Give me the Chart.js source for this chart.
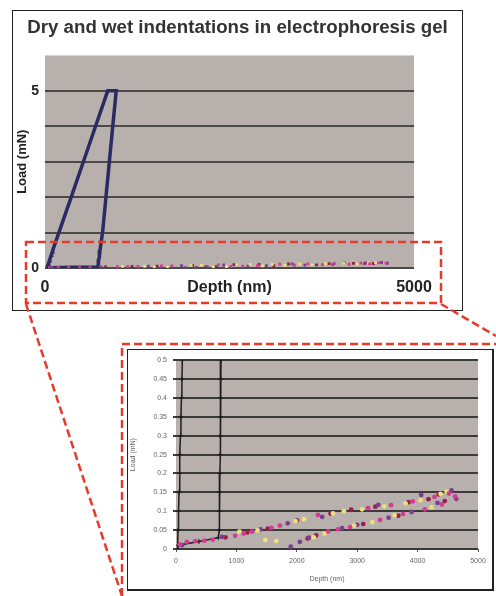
<!DOCTYPE html>
<html>
<head>
<meta charset="utf-8">
<script src="https://cdn.jsdelivr.net/npm/chart.js@4.4.1/dist/chart.umd.min.js"></script>
<style>
  html, body { margin: 0; padding: 0; background: #fff; }
  body { width: 496px; height: 596px; position: relative; overflow: hidden; }
  .box { position: absolute; border: 1px solid #222; background: #fff; }
  #mainBox { left: 12px; top: 10px; width: 449px; height: 299px; }
  #zoomBox { left: 127px; top: 349px; width: 364px; height: 239px; border-right-width: 2px; border-bottom-width: 2px; }
  canvas { display: block; }
  svg { position: absolute; left: 0; top: 0; pointer-events: none; }
</style>
</head>
<body>
<div class="box" id="mainBox"><canvas id="mainChart" width="449" height="299"></canvas></div>
<div class="box" id="zoomBox"><canvas id="zoomChart" width="364" height="239"></canvas></div>
<svg width="496" height="596">
  <g fill="none" stroke="#e8392b" stroke-width="2.5" stroke-dasharray="8 4">
    <rect x="26" y="242" width="415" height="61"/>
    <line x1="26" y1="304" x2="122" y2="596"/>
    <line x1="441" y1="304" x2="496" y2="336"/>
    <polyline points="122,596 122,344 496,344"/>
  </g>
</svg>
<script>
// dry indentation: load, hold, unload (depth nm, load mN)
const dryDepth = [25, 34, 42, 50, 58, 66, 74, 82, 90, 98, 105, 188, 355, 520, 685, 850,
  965, 918, 872, 826, 780, 745, 742, 738, 735, 732, 729, 726, 722, 719, 715, 700, 380, 40];
const dryLoad = [0, 0.05, 0.1, 0.15, 0.2, 0.25, 0.3, 0.35, 0.4, 0.45, 0.5, 1, 2, 3, 4, 5,
  5, 4, 3, 2, 1, 0.5, 0.45, 0.4, 0.35, 0.3, 0.25, 0.2, 0.15, 0.1, 0.05, 0.03, 0.02, 0.01];

// wet indentations, four runs
const wetMagentaDepth = [60, 180, 320, 470, 610, 980, 1120, 1260, 1580, 1720, 2350, 2520,
  2680, 2880, 3180, 3380, 3560, 3760, 3920, 4120, 4280, 4400, 4520, 4620];
const wetMagentaLoad = [0.012, 0.019, 0.021, 0.022, 0.025, 0.035, 0.041, 0.046, 0.056, 0.062, 0.090, 0.047,
  0.052, 0.058, 0.108, 0.077, 0.116, 0.093, 0.126, 0.105, 0.138, 0.118, 0.147, 0.139];
const wetYellowDepth = [1050, 1350, 1480, 1660, 1980, 2120, 2280, 2460, 2600, 2780, 2950, 3080,
  3250, 3450, 3620, 3800, 4050, 4230, 4380, 4480];
const wetYellowLoad = [0.046, 0.049, 0.024, 0.021, 0.074, 0.079, 0.031, 0.041, 0.094, 0.100, 0.062, 0.105,
  0.071, 0.113, 0.089, 0.121, 0.129, 0.110, 0.146, 0.152];
const wetPurpleDepth = [100, 760, 1400, 1850, 1900, 2050, 2200, 2420, 2750, 3000, 3350, 3520,
  3900, 4060, 4330, 4560, 4640];
const wetPurpleLoad = [0.010, 0.032, 0.052, 0.068, 0.006, 0.019, 0.030, 0.085, 0.055, 0.064, 0.117, 0.083,
  0.098, 0.143, 0.122, 0.155, 0.133];
const wetRedDepth = [820, 1180, 1520, 2000, 2180, 2320, 2560, 2900, 3100, 3300, 3680, 3850, 4180, 4350, 4450];
const wetRedLoad = [0.031, 0.044, 0.054, 0.076, 0.028, 0.036, 0.094, 0.104, 0.066, 0.112, 0.088, 0.124, 0.132, 0.145, 0.127];

const wetRuns = [
  { depth: wetMagentaDepth, load: wetMagentaLoad, color: "#d63a93" },
  { depth: wetYellowDepth, load: wetYellowLoad, color: "#ece07a" },
  { depth: wetPurpleDepth, load: wetPurpleLoad, color: "#7b3f90" },
  { depth: wetRedDepth, load: wetRedLoad, color: "#96204a" },
];

const mainXTicks = [0, 5000];
const mainYTicks = [0, 5];

const FONT = "'Liberation Sans', Arial, sans-serif";

function points(xs, ys) {
  return xs.map((x, i) => ({ x: x, y: ys[i] }));
}

const plotBg = {
  id: "plotBg",
  beforeDraw(chart, args, opts) {
    const { ctx, chartArea: a } = chart;
    ctx.save();
    ctx.fillStyle = opts.color;
    ctx.fillRect(a.left, a.top, a.width, a.height);
    ctx.restore();
  },
};

// main chart
new Chart(document.getElementById("mainChart"), {
  type: "scatter",
  plugins: [plotBg],
  data: {
    datasets: [
      ...wetRuns.map((r) => ({
        data: points(r.depth, r.load),
        backgroundColor: r.color,
        borderColor: r.color,
        pointStyle: "rect",
        pointRadius: 2,
        borderWidth: 0,
      })),
      {
        data: points(dryDepth, dryLoad),
        showLine: true,
        borderColor: "#2b2a62",
        borderWidth: 3.5,
        pointRadius: 0,
      },
    ],
  },
  options: {
    responsive: false,
    animation: false,
    layout: { padding: { left: 0, right: 0, top: 0, bottom: 9 } },
    plugins: {
      legend: { display: false },
      tooltip: { enabled: false },
      plotBg: { color: "#b8b0ad" },
      title: {
        display: true,
        text: "Dry and wet indentations in electrophoresis gel",
        color: "#333",
        font: { family: FONT, size: 18.7, weight: "bold" },
        padding: { top: 6, bottom: 16 },
      },
    },
    scales: {
      x: {
        type: "linear",
        min: 0,
        max: 5000,
        grid: { display: false, drawTicks: false },
        border: { display: false },
        afterBuildTicks: (s) => { s.ticks = mainXTicks.map((v) => ({ value: v })); },
        ticks: {
          color: "#222",
          font: { family: FONT, size: 16, weight: "bold" },
          padding: 10,
          maxRotation: 0,
          callback: (v) => String(v),
        },
        title: {
          display: true,
          text: "Depth (nm)",
          color: "#222",
          font: { family: FONT, size: 16, weight: "bold" },
          padding: { top: 0, bottom: 4 },
        },
        afterFit: (s) => { s.height = 33; },
      },
      y: {
        min: 0,
        max: 6,
        grid: { color: "#4a4a4a", lineWidth: 2, drawTicks: false },
        border: { display: false },
        ticks: {
          stepSize: 1,
          color: "#222",
          padding: 6,
          font: { family: FONT, size: 14, weight: "bold" },
          callback: (v) => (v === 6 ? null : mainYTicks.includes(v) ? String(v) : ""),
        },
        title: {
          display: true,
          text: "Load (mN)",
          color: "#222",
          font: { family: FONT, size: 13, weight: "bold" },
          padding: { top: 2, bottom: 0 },
        },
        afterFit: (s) => { s.width = 32; },
      },
      // empty right-hand axis, only reserves the white margin
      yRight: {
        position: "right",
        grid: { display: false, drawTicks: false },
        border: { display: false },
        ticks: { display: false },
        afterFit: (s) => { s.width = 48; },
      },
    },
  },
});

// zoomed inset chart
new Chart(document.getElementById("zoomChart"), {
  type: "scatter",
  plugins: [plotBg],
  data: {
    datasets: [
      ...wetRuns.map((r) => ({
        data: points(r.depth, r.load),
        backgroundColor: r.color,
        borderColor: r.color,
        pointRadius: 2.4,
        borderWidth: 0,
      })),
      {
        data: points(dryDepth, dryLoad),
        showLine: true,
        borderColor: "#1e1e1e",
        borderWidth: 1.5,
        pointStyle: "cross",
        pointRadius: 2.5,
        pointBorderWidth: 1,
      },
    ],
  },
  options: {
    responsive: false,
    animation: false,
    layout: { padding: { left: 0, right: 14, top: 8, bottom: 4 } },
    plugins: {
      legend: { display: false },
      tooltip: { enabled: false },
      plotBg: { color: "#b8b0ad" },
    },
    scales: {
      x: {
        type: "linear",
        min: 0,
        max: 5000,
        grid: { drawOnChartArea: false, tickLength: 3, color: "#555" },
        border: { display: false },
        ticks: {
          stepSize: 1000,
          color: "#666",
          padding: 5,
          maxRotation: 0,
          font: { family: FONT, size: 7 },
          callback: (v) => String(v),
        },
        title: {
          display: true,
          text: "Depth (nm)",
          color: "#666",
          font: { family: FONT, size: 7 },
          padding: { top: 0, bottom: 2 },
        },
        afterFit: (s) => { s.height = 36; },
      },
      y: {
        min: 0,
        max: 0.5,
        grid: { color: "#3a3a3a", lineWidth: 2, tickLength: 3 },
        border: { display: false },
        ticks: {
          stepSize: 0.05,
          color: "#666",
          padding: 6,
          font: { family: FONT, size: 7 },
          callback: (v) => String(+v.toFixed(2)),
        },
        title: {
          display: true,
          text: "Load (mN)",
          color: "#666",
          font: { family: FONT, size: 7 },
          padding: { top: 1, bottom: 0 },
        },
        afterFit: (s) => { s.width = 48; },
      },
    },
  },
});
</script>
</body>
</html>
